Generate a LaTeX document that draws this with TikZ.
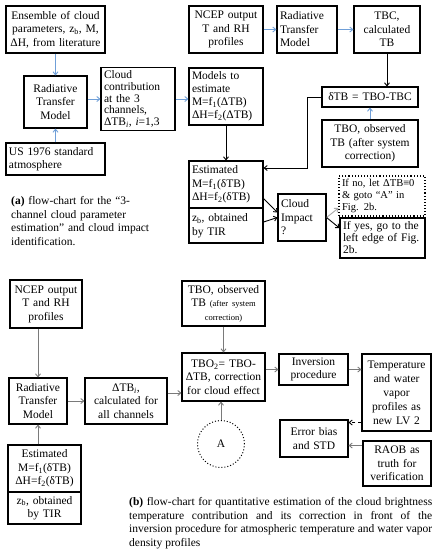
\documentclass[tikz,border=0pt]{standalone}
\usepackage{fontspec}
\setmainfont{Liberation Serif}
\usetikzlibrary{arrows.meta,calc}
\definecolor{arrblue}{HTML}{6F9FD8}
\definecolor{arrgrey}{HTML}{7A7A7A}
\definecolor{arrlight}{HTML}{A8A8A8}
\newcommand\mybox[7][]{%
 \pgfmathsetmacro\bxw{#5-#3}%
 \pgfmathsetmacro\bxh{#6-#4}%
 \pgfmathsetmacro\bxt{#5-#3-6}%
 \pgfmathsetmacro\bxcx{(#3+#5)/2}%
 \pgfmathsetmacro\bxcy{(#4+#6)/2}%
 \node[box,minimum width=\bxw pt,minimum height=\bxh pt,text width=\bxt pt,#1] (#2) at (\bxcx,\bxcy) {#7};}
\tikzset{
 box/.style={draw, line width=1.1pt, inner sep=3pt, align=center, font=\fontsize{11.5}{13.5}\selectfont},
 lft/.style={align=left},
 arr/.style={-{Straight Barb[length=3pt,width=5pt]}, line width=0.9pt},
 ablue/.style={arr, arrblue},
 ablack/.style={arr, black},
 agrey/.style={arr, arrgrey},
 alight/.style={arr, arrlight},
 captxt/.style={inner sep=0pt, anchor=north west, font=\fontsize{11.5}{13.8}\selectfont},
}
\begin{document}
\begin{tikzpicture}[x=1pt,y=-1pt]
\fill[white] (0,0) rectangle (437,550);
\useasboundingbox (0,0) rectangle (437,550);
% ---------- part (a) ----------
\mybox{ens}{6}{6}{105}{53}{Ensemble of cloud\\parameters, z\textsubscript{b}, M,\\ΔH, from literature}
\mybox{rtma}{24}{76}{87}{128}{Radiative\\Transfer\\Model}
\mybox[lft,font=\fontsize{11.5}{11.6}\selectfont]{cca}{101}{70}{175}{128}{Cloud\\contribution\\at the 3\\channels,\\ΔTB\textsubscript{\textit{i}}, \textit{i}=1,3}
\mybox[lft]{us}{6}{143}{105}{175}{US 1976 standard\\atmosphere}
\mybox{ncepa}{189}{6}{263}{53}{NCEP output\\T and RH\\profiles}
\mybox[lft]{rtmt}{277}{6}{337}{53}{Radiative\\Transfer\\Model}
\mybox{tbc}{354}{6}{420}{53}{TBC,\\calculated\\TB}
\mybox{dtb}{322}{87}{418}{107}{δTB = TBO-TBC}
\mybox{tboa}{322}{120}{418}{167}{TBO, observed\\TB (after system\\correction)}
\mybox[lft,font=\fontsize{11.5}{13}\selectfont]{models}{189}{68}{263}{125}{Models to\\estimate\\M=f\textsubscript{1}(ΔTB)\\ΔH=f\textsubscript{2}(ΔTB)}
\mybox[lft]{esta}{189}{161}{263}{208}{Estimated\\M=f\textsubscript{1}(δTB)\\ΔH=f\textsubscript{2}(δTB)}
\mybox[lft]{zba}{189}{208}{263}{243}{z\textsubscript{b}, obtained\\by TIR}
\mybox[lft]{ci}{278}{194}{326}{241}{Cloud\\Impact\\?}
\mybox[lft,dotted,font=\fontsize{10.5}{12}\selectfont]{ifno}{339}{176}{425}{216}{If no, let ΔTB≡0\\\& goto “A” in\\Fig. 2b.}
\mybox[lft,font=\fontsize{11.5}{12}\selectfont]{ifyes}{340}{218}{425}{258}{If yes, go to the\\left edge of Fig.\\2b.}
\node[captxt, text width=145pt, align=left] (capa) at (11,196) {\textbf{(a)} flow-chart for the “3-\\channel cloud parameter\\estimation” and cloud impact\\identification.};
% connectors (a)
\draw[ablue] (ens.south) -- (rtma.north);
\draw[ablue] (us.north) -- (rtma.south);
\draw[ablue] (cca.west -| rtma.east) -- (cca.west);
\draw[ablue] (cca.east) -- (cca.east -| models.west);
\draw[ablue] (ncepa.east) -- (rtmt.west);
\draw[ablue] (rtmt.east) -- (tbc.west);
\draw[ablack] (tbc.south) -- (tbc.south |- dtb.north);
\draw[ablue] (tboa.north) -- (dtb.south);
\draw[ablack] (models.south) -- (esta.north);
\coordinate (c1) at (307,168);
\draw[ablack] (dtb.west) -| (c1) -- (c1 -| esta.east);
\draw[ablack] ([yshift=-14pt]esta.east) -- ([yshift=5pt]ci.west);
\draw[ablack] ([yshift=3.5pt]zba.east) -- ([yshift=0pt]ci.west);
\draw[alight] ([yshift=0pt]ci.east) -- ([yshift=-12pt]ifno.west);
\draw[ablack] ([yshift=0pt]ci.east) -- ([yshift=10pt]ifyes.west);
% ---------- part (b) ----------
\mybox{ncepb}{10}{280}{82}{328}{NCEP output\\T and RH\\profiles}
\mybox{rtmb}{9}{378}{67}{424}{Radiative\\Transfer\\Model}
\mybox{dtbi}{85}{378}{167}{424}{ΔTB\textsubscript{\textit{i}},\\calculated for\\all channels}
\mybox{tbob}{182}{281}{265}{326}{TBO, observed\\TB {\fontsize{8.5}{10}\selectfont (after system}\\{\fontsize{8.5}{10}\selectfont correction)}}
\mybox{tbo2}{182}{353}{265}{401}{TBO\textsubscript{2}= TBO-\\ΔTB, correction\\for cloud effect}
\mybox{inv}{279}{354}{348}{385}{Inversion\\procedure}
\mybox[font=\fontsize{11.5}{14}\selectfont]{temp}{362}{354}{431}{431}{Temperature\\and water\\vapor\\profiles as\\new LV 2}
\mybox{err}{280}{420}{348}{457}{Error bias\\and STD}
\mybox{raob}{363}{441}{431}{486}{RAOB as\\truth for\\verification}
\node[draw, circle, dotted, line width=1pt, minimum size=47pt, inner sep=0pt, font=\fontsize{11.5}{13.5}\selectfont] (A) at (221,444) {A};
\mybox{estb}{8}{445}{81}{492}{Estimated\\M=f\textsubscript{1}(δTB)\\ΔH=f\textsubscript{2}(δTB)}
\mybox{zbb}{8}{492}{81}{524}{z\textsubscript{b}, obtained\\by TIR}
\node[captxt, text width=303pt, align=justify] (capb) at (129,497) {\textbf{(b)} flow-chart for quantitative estimation of the cloud brightness\linebreak temperature contribution and its correction in front of the\linebreak inversion procedure for atmospheric temperature and water vapor\linebreak density profiles};
% connectors (b)
\draw[agrey] (rtmb.north |- ncepb.south) -- (rtmb.north);
\draw[agrey] (rtmb.south |- estb.north) -- (rtmb.south);
\draw[agrey] (rtmb.east) -- (dtbi.west);
\coordinate (d1) at ([yshift=8pt]dtbi.east);
\draw[agrey] (d1) -- (d1 -| tbo2.west);
\draw[agrey] (tbob.south) -- (tbo2.north);
\draw[agrey] (inv.west -| tbo2.east) -- (inv.west);
\draw[agrey] (inv.east) -- (inv.east -| temp.west);
\coordinate (t1) at ([yshift=-30pt]temp.west);
\draw[ablack, dashed, line width=0.9pt] (t1) -- (t1 -| err.east);
\coordinate (r1) at ([yshift=18pt]raob.west);
\draw[agrey] (r1) -- (r1 -| err.east);
\draw[agrey] (A.north) -- (A.north |- tbo2.south);
\end{tikzpicture}
\end{document}
